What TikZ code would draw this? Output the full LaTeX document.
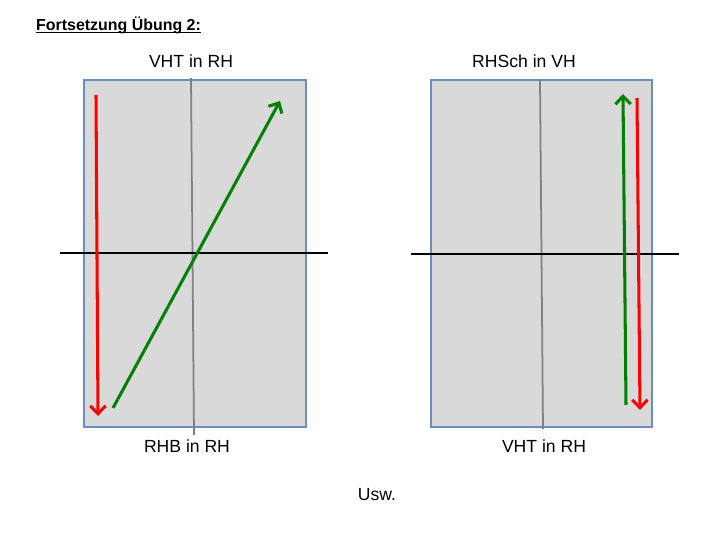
\documentclass[tikz,border=0pt]{standalone}
\usepackage{fontspec}
\setmainfont{Liberation Sans}
\usepackage{xcolor}
\usetikzlibrary{positioning,arrows.meta}

\definecolor{panelblue}{RGB}{108,142,191}
\definecolor{panelgray}{RGB}{217,217,217}
\definecolor{midgray}{RGB}{128,128,128}
\definecolor{arrred}{RGB}{255,0,0}
\definecolor{arrgreen}{RGB}{0,128,0}

\begin{document}
\begin{tikzpicture}[x=0.03cm,y=-0.03cm,
		panel/.style={draw=panelblue,fill=panelgray,line width=1.6pt},
		axis/.style={draw=black,line width=1.5pt},
		mid/.style={draw=midgray,line width=1.5pt},
		vec/.style={-{Straight Barb[length=2.4mm,width=4.6mm,line width=0pt 1]},line width=2.6pt},
		lbl/.style={inner sep=0pt,font=\fontsize{15}{18}\selectfont}
		]
		\useasboundingbox (0,0) rectangle (720,540);
		
		\node[inner sep=0pt,anchor=west,font=\bfseries\fontsize{13.6}{16}\selectfont] (title) at (36,25) {Fortsetzung Übung 2:};
		\draw[line width=0.9pt] ([yshift=-1.7pt]title.base west) -- ([yshift=-1.7pt]title.base east);
		
		% linkes Bild
		\draw[panel] (84,80) rectangle (306,427);
		\draw[mid] (191,78) -- (194,435);
		\draw[axis] (60,253) -- (328,253);
		\coordinate (r1s) at (96,95);
		\coordinate (r1e) at (98,416);
		\coordinate (g1s) at (113,408);
		\coordinate (g1e) at (280,101);
		\draw[vec,arrred] (r1s) -- (r1e);
		\draw[vec,arrgreen] (g1s) -- (g1e);
		\node[lbl] (top1) at (191,61) {VHT in RH};
		\node[lbl] (bot1) at (187,446) {RHB in RH};
		
		% rechtes Bild
		\draw[panel] (431,80) rectangle (652,427);
		\draw[mid] (540,79) -- (543,429);
		\draw[axis] (411,254) -- (679,254);
		\coordinate (g2s) at (626,405);
		\coordinate (g2e) at (623,94);
		\coordinate (r2s) at (637,98);
		\coordinate (r2e) at (640,410);
		\draw[vec,arrgreen] (g2s) -- (g2e);
		\draw[vec,arrred] (r2s) -- (r2e);
		\node[lbl] (top2) at (524,61) {RHSch in VH};
		\node[lbl] (bot2) at (544,446) {VHT in RH};
		
		\node[lbl] (usw) at (377,495) {Usw.};
	\end{tikzpicture}
\end{document}
